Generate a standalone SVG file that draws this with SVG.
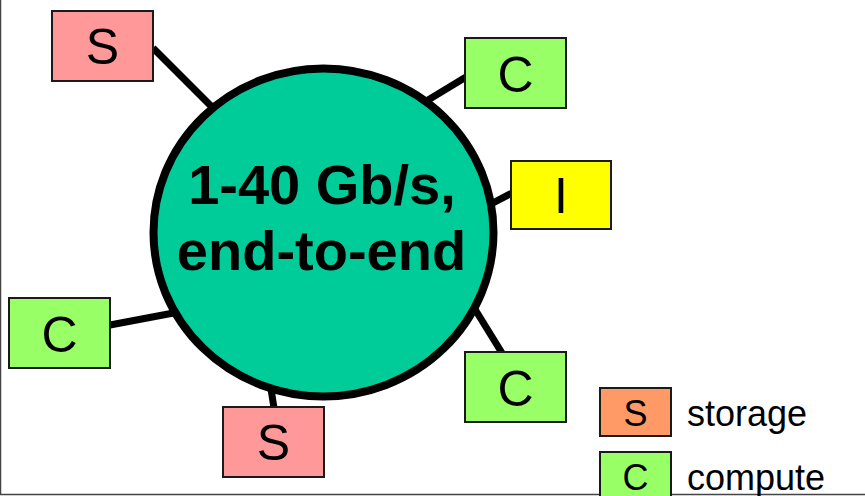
<svg xmlns="http://www.w3.org/2000/svg" width="865" height="496" viewBox="0 0 865 496">
  <style>
    .box { stroke: #1a1a1a; stroke-width: 2; }
    .storage { fill: #ff9999; }
    .compute { fill: #99ff66; }
    .io { fill: #ffff00; }
    .legend-storage { fill: #ff9966; }
    .lbl { font-family: "Liberation Sans", Arial, sans-serif; font-size: 50px; fill: #000; text-anchor: middle; }
    .leg { font-family: "Liberation Sans", Arial, sans-serif; font-size: 36px; fill: #000; }
    .hub-text { font-family: "Liberation Sans", Arial, sans-serif; font-size: 56px; font-weight: bold; fill: #000; text-anchor: middle; }
    .link { stroke: #000; stroke-width: 7; fill: none; }
  </style>
  <rect x="0" y="0" width="865" height="496" fill="#ffffff"/>
  <!-- page frame -->
  <line x1="0.5" y1="0" x2="0.5" y2="495" stroke="#444" stroke-width="1.5"/>
  <line x1="0" y1="494.5" x2="865" y2="494.5" stroke="#444" stroke-width="1.5"/>

  <!-- links from the hub to each node -->
  <g id="connectors">
    <line class="link" x1="153" y1="48" x2="230" y2="125"/>
    <line class="link" x1="466" y1="77" x2="400" y2="117"/>
    <line class="link" x1="512" y1="193" x2="470" y2="215"/>
    <line class="link" x1="110" y1="325" x2="200" y2="308"/>
    <line class="link" x1="274" y1="408" x2="268" y2="370"/>
    <line class="link" x1="502" y1="353" x2="460" y2="285"/>
  </g>

  <g id="hub">
    <ellipse cx="323.5" cy="232.5" rx="170" ry="164" fill="#00cc99" stroke="#000" stroke-width="8"/>
    <text class="hub-text" x="322" y="204">1-40 Gb/s,</text>
    <text class="hub-text" x="321.5" y="270">end-to-end</text>
  </g>

  <g id="storage-top">
    <rect class="box storage" x="52" y="11" width="101" height="70"/>
    <text class="lbl" x="102.5" y="64">S</text>
  </g>
  <g id="compute-top">
    <rect class="box compute" x="465" y="38" width="101" height="70"/>
    <text class="lbl" x="515.5" y="92">C</text>
  </g>
  <g id="io">
    <rect class="box io" x="511" y="161" width="100" height="68"/>
    <text class="lbl" x="561" y="213">I</text>
  </g>
  <g id="compute-left">
    <rect class="box compute" x="9" y="298" width="101" height="70"/>
    <text class="lbl" x="59.5" y="352">C</text>
  </g>
  <g id="storage-bottom">
    <rect class="box storage" x="223" y="407" width="101" height="70"/>
    <text class="lbl" x="273.5" y="460">S</text>
  </g>
  <g id="compute-right">
    <rect class="box compute" x="465" y="352" width="101" height="70"/>
    <text class="lbl" x="515.5" y="406">C</text>
  </g>

  <g id="legend-storage">
    <rect class="box legend-storage" x="600" y="388" width="71" height="48"/>
    <text class="leg" x="635.5" y="426" text-anchor="middle">S</text>
    <text class="leg" x="687" y="426">storage</text>
  </g>
  <g id="legend-compute">
    <rect class="box compute" x="600" y="452" width="71" height="48"/>
    <text class="leg" x="635.5" y="490" text-anchor="middle">C</text>
    <text class="leg" x="687" y="490">compute</text>
  </g>
</svg>
